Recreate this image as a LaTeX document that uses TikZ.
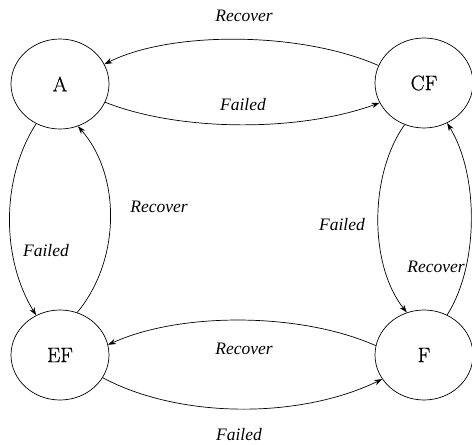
\documentclass[tikz,border=0pt]{standalone}
\usepackage{fontspec}
\newfontfamily\labfont{Liberation Serif}
\newfontfamily\statefont{Latin Modern Roman}[FakeBold=0.6]
\usetikzlibrary{shapes.geometric,arrows.meta}
\tikzset{
  state/.style={draw, ellipse, minimum width=98pt, minimum height=90pt, inner sep=0pt, line width=0.7pt, font=\statefont\fontsize{21}{21}\selectfont},
  edge/.style={line width=0.7pt, -{Stealth[length=8pt,width=5.5pt]}},
  lab/.style={font=\labfont\itshape\fontsize{17.5}{18}\selectfont, inner sep=0pt}
}
\begin{document}
\begin{tikzpicture}[x=1pt,y=-1pt]
\useasboundingbox (0,0) rectangle (472,445);
\node[state] (A) at (60,84) {A};
\node[state] (CF) at (424,83) {CF};
\node[state] (EF) at (60,355) {EF};
\node[state] (F) at (424,355) {F};
% top pair
\draw[edge] (CF.159) .. controls (300,31) and (170,31) .. (A.24);
\draw[edge] (A.-22) .. controls (180,132) and (300,132) .. (CF.204);
% left pair
\draw[edge] (A.-121) .. controls (0,180) and (2,260) .. (EF.121);
\draw[edge] (EF.68) .. controls (121,260) and (121,175) .. (A.-67);
% right pair
\draw[edge] (CF.-115) .. controls (369,175) and (369,265) .. (F.112);
\draw[edge] (F.60) .. controls (479,265) and (479,175) .. (CF.-60);
% bottom pair
\draw[edge] (F.169) .. controls (300,312) and (180,312) .. (EF.12);
\draw[edge] (EF.-28) .. controls (180,419) and (300,419) .. (F.-150);
% labels
\node[lab] (l1) at (244,16) {Recover};
\node[lab] (l2) at (243,105) {Failed};
\node[lab] (l3) at (46,251) {Failed};
\node[lab] (l4) at (159,207) {Recover};
\node[lab] (l5) at (342,225) {Failed};
\node[lab] (l6) at (436,267) {Recover};
\node[lab] (l7) at (244,349) {Recover};
\node[lab] (l8) at (239,435) {Failed};
\end{tikzpicture}
\end{document}
